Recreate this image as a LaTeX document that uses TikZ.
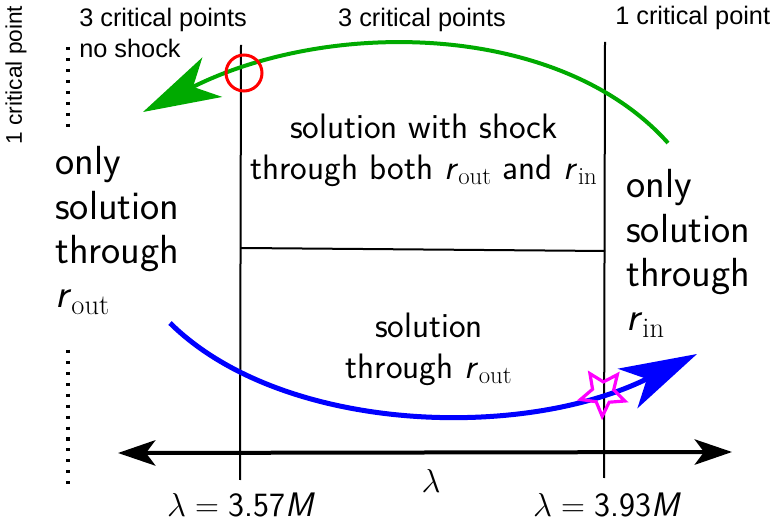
\documentclass[tikz,border=0pt]{standalone}
\usepackage{fontspec}
\newfontfamily\arialf{Liberation Sans}
\usetikzlibrary{arrows.meta,shapes.geometric}
\definecolor{arcgreen}{RGB}{0,170,0}
\definecolor{arcblue}{RGB}{0,0,255}
\definecolor{starmag}{RGB}{255,0,255}
\newcommand{\rsym}{\textit{r}}
\tikzset{
  toplabel/.style={font=\arialf\fontsize{19}{22}\selectfont, inner sep=0pt},
  sidetext/.style={font=\sffamily\fontsize{30.5}{33.3}\selectfont, inner sep=0pt, align=left},
  midtext/.style={font=\sffamily\fontsize{26.5}{31}\selectfont, inner sep=0pt, align=center},
  lamlabel/.style={font=\sffamily\fontsize{25.5}{30}\selectfont, inner sep=0pt},
  boundary/.style={line width=1.5pt, black},
  dotline/.style={line width=2.3pt, dash pattern=on 2.3pt off 5.9pt},
  bigtip/.style={-{Stealth[length=58pt,width=33pt,inset=16pt]}},
}
\begin{document}
\begin{tikzpicture}[x=0.75pt,y=-0.75pt]
\useasboundingbox (0,0) rectangle (771,523);
% coordinates
\coordinate (L1) at (241,45);
\coordinate (L2) at (240,480);
\coordinate (R1) at (605,42);
\coordinate (R2) at (604,478);
\coordinate (M1) at (241,248);
\coordinate (M2) at (605,251);
\coordinate (AxL) at (118,453);
\coordinate (AxR) at (732,452);
\coordinate (D1a) at (68,47);
\coordinate (D1b) at (68,133);
\coordinate (D2a) at (68,350);
\coordinate (D2b) at (68,484);
\coordinate (G0) at (668,143);
\coordinate (G1) at (143,112);
\coordinate (B0) at (170,323);
\coordinate (B1) at (697,354);
% boundaries
\draw[boundary] (L1) -- (L2);
\draw[boundary] (R1) -- (R2);
\draw[boundary] (M1) -- (M2);
\draw[line width=3pt, {Stealth[length=28pt,width=19pt,inset=7pt]}-{Stealth[length=28pt,width=19pt,inset=7pt]}] (AxL) -- (AxR);
\draw[dotline] (D1a) -- (D1b);
\draw[dotline] (D2a) -- (D2b);
% labels
\node[toplabel, anchor=base west] (tl) at (79,27) {3 critical points};
\node[toplabel, anchor=base west] (ns) at (79,58) {no shock};
\node[toplabel, anchor=base] (tm) at (422,27) {3 critical points};
\node[toplabel, anchor=base west] (tr) at (615,25) {1 critical point};
\node[toplabel, font=\arialf\fontsize{17}{19}\selectfont, rotate=90] (rot) at (16,75) {1 critical point};
\node[sidetext, anchor=base west] (lt) at (55,308) {only\\solution\\through\\\rsym$_{\mathrm{out}}$};
\node[sidetext, anchor=base west] (rt) at (626,331) {only\\solution\\through\\\rsym$_{\mathrm{in}}$};
\node[midtext, anchor=base] (ms) at (424,180) {solution with shock\\through both \rsym$_{\mathrm{out}}$ and \rsym$_{\mathrm{in}}$};
\node[midtext, anchor=base] (mo) at (429,379) {solution\\through \rsym$_{\mathrm{out}}$};
\node[lamlabel] (lam) at (431,481) {$\lambda$};
\node[lamlabel] (la) at (241,505) {$\lambda = {}$3.57\textit{M}};
\node[lamlabel] (lb) at (607,505) {$\lambda = {}$3.93\textit{M}};
% arcs
\draw[arcgreen, line width=3pt, bigtip] (G0) .. controls (560,22) and (330,18) .. (G1);
\draw[arcblue, line width=3.75pt, bigtip] (B0) .. controls (280,432) and (520,442) .. (B1);
\node[circle, draw=red, line width=2.25pt, minimum size=27pt, inner sep=0pt] (circ) at (244,73) {};
\node[star, star points=5, star point ratio=2.1, draw=starmag, line width=2.4pt, minimum size=35pt, inner sep=0pt, rotate=34] (st) at (603,393) {};
\end{tikzpicture}
\end{document}
